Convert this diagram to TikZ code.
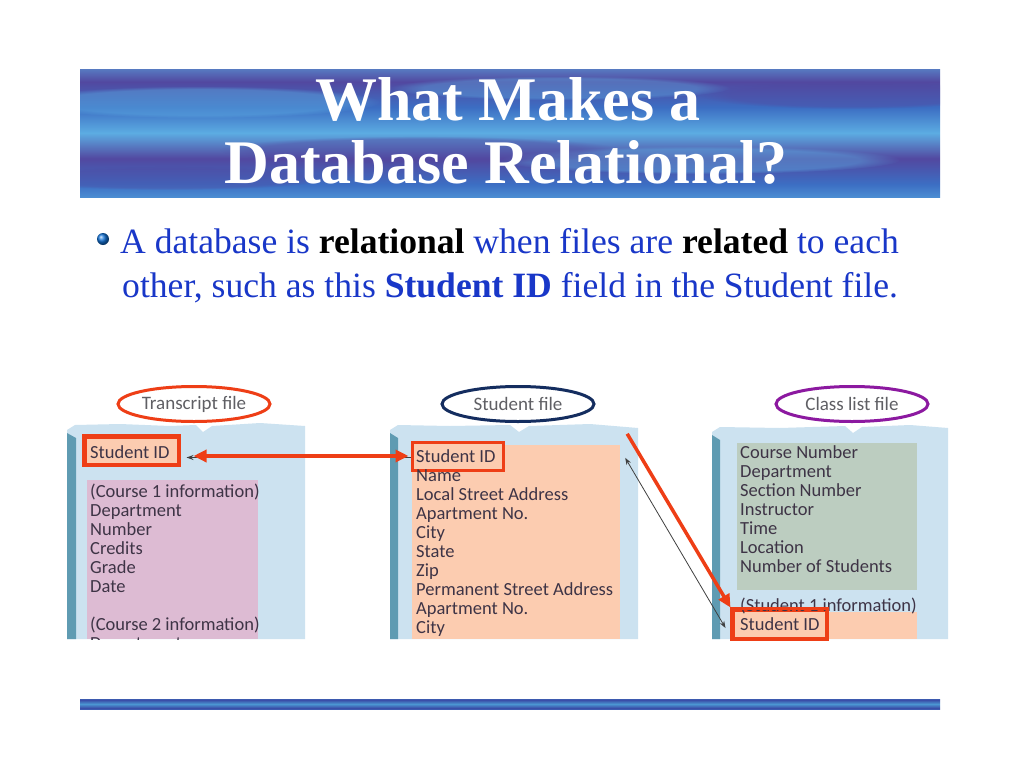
\documentclass[tikz,border=0pt]{standalone}
\usepackage{fontspec}
\setmainfont{Liberation Serif}
\newfontfamily\hand{Carlito}
\usetikzlibrary{arrows.meta,shapes.geometric,fadings}
\definecolor{panelblue}{RGB}{204,226,240}
\definecolor{stripteal}{RGB}{95,155,178}
\definecolor{peach}{RGB}{252,204,176}
\definecolor{pinkf}{RGB}{221,187,211}
\definecolor{greenf}{RGB}{188,205,192}
\definecolor{redorange}{RGB}{238,62,22}
\definecolor{navy}{RGB}{20,45,95}
\definecolor{purplec}{RGB}{140,25,160}
\definecolor{fieldgray}{RGB}{62,52,70}
\definecolor{labelgray}{RGB}{95,95,100}
\definecolor{textblue}{RGB}{25,55,200}
\definecolor{bnA}{RGB}{72,62,150}
\definecolor{bnB}{RGB}{70,130,205}
\definecolor{bnC}{RGB}{92,172,226}
\definecolor{bnD}{RGB}{60,110,195}
\definecolor{bnE}{RGB}{82,72,160}
\definecolor{bnF}{RGB}{70,85,168}
\definecolor{brA}{RGB}{75,150,210}
\definecolor{brB}{RGB}{58,78,168}
\pgfdeclareverticalshading{banner}{100bp}{color(0bp)=(bnA); color(10bp)=(bnB); color(20bp)=(bnC); color(30bp)=(bnD); color(40bp)=(bnE); color(50bp)=(bnC); color(60bp)=(bnD); color(70bp)=(bnE); color(80bp)=(bnC); color(90bp)=(bnD); color(100bp)=(bnF)}
\pgfdeclareverticalshading{barshade}{100bp}{color(0bp)=(brA); color(30bp)=(brB); color(50bp)=(brA); color(70bp)=(brB); color(100bp)=(brA)}
\tikzset{
  fieldtxt/.style={anchor=base west, font=\hand\fontsize{18.5}{19}\selectfont, text=fieldgray, inner sep=0pt},
  sidbox/.style={draw=redorange, line width=3pt, fill=peach, inner sep=0pt},
  fileoval/.style={ellipse, line width=3pt, minimum width=152pt, minimum height=35pt, inner sep=0pt, fill=white, font=\hand\fontsize{19}{19}\selectfont, text=labelgray},
  redarr/.style={draw=redorange, line width=3.5pt, >={Triangle[length=13pt,width=12pt]}},
  thinarr/.style={draw=black!75, line width=0.8pt, >={Stealth[length=7pt,width=5pt]}},
  bodytxt/.style={anchor=base west, inner sep=0pt, font=\fontsize{35.6}{36}\selectfont, text=textblue},
  titletxt/.style={anchor=base, inner sep=0pt, font=\fontsize{62}{63}\selectfont\bfseries, text=white},
  blob/.style={path fading=circle with fuzzy edge 20 percent}
}
\begin{document}
\begin{tikzpicture}[x=1pt,y=-1pt]
\useasboundingbox (0,0) rectangle (1024,768);
\fill[white] (0,0) rectangle (1024,768);
% banner
\begin{scope}
\clip (80,69) rectangle (940,197);
\shade[shading=banner] (80,69) rectangle (940,197);
\fill[bnC, blob, opacity=0.45] (200,102) ellipse (180 and 16);
\fill[bnC, blob, opacity=0.45] (700,160) ellipse (200 and 14);
\fill[bnE, blob, opacity=0.4] (420,150) ellipse (200 and 14);
\fill[bnE, blob, opacity=0.4] (850,95) ellipse (150 and 14);
\fill[bnC, blob, opacity=0.4] (560,88) ellipse (170 and 12);
\fill[bnE, blob, opacity=0.35] (170,178) ellipse (160 and 12);
\end{scope}
\node[titletxt] (t1) at (508,120) {What Makes a};
\node[titletxt] (t2) at (506,183) {Database Relational?};
% bullet text
\shade[ball color=textblue!70!cyan] (103,239) circle (6);
\node[bodytxt] (b1) at (120,253) {A database is \textbf{\color{black}relational} when files are \textbf{\color{black}related} to each};
\node[bodytxt] (b2) at (122,297) {other, such as this \textbf{Student ID} field in the Student file.};
% bottom bar
\shade[shading=barshade] (80,699) rectangle (940,709);
% panels
\fill[panelblue] (67,430) -- (75,425) -- (120,424) -- (170,426) -- (196,425) -- (203,432) -- (212,426) -- (260,423) -- (305,426) -- (305,639) -- (67,639) -- cycle;
\fill[stripteal] (67,433) -- (76,438) -- (76,639) -- (67,639) -- cycle;
\fill[panelblue] (390,430) -- (398,425) -- (450,426) -- (510,425) -- (519,432) -- (529,426) -- (590,424) -- (638,428) -- (638,639) -- (390,639) -- cycle;
\fill[stripteal] (390,433) -- (398,438) -- (398,639) -- (390,639) -- cycle;
\fill[panelblue] (712,432) -- (720,427) -- (780,428) -- (845,426) -- (853,433) -- (862,427) -- (910,425) -- (948,428) -- (948,639) -- (712,639) -- cycle;
\fill[stripteal] (712,435) -- (720,440) -- (720,639) -- (712,639) -- cycle;
% field areas
\fill[pinkf] (87,480) rectangle (258,639);
\node[fill=peach, inner sep=0pt, minimum width=208pt, minimum height=194pt] (s-body) at (516,542) {};
\fill[greenf] (737,443) rectangle (917,590);
\fill[peach] (737,612) rectangle (917,639);
% ovals
\node[fileoval, draw=redorange] (t-oval) at (194,404) {Transcript file};
\node[fileoval, draw=navy] (s-oval) at (518,404) {Student file};
\node[fileoval, draw=purplec] (c-oval) at (852,404) {Class list file};
% Student ID boxes
\node[sidbox, minimum width=93pt, minimum height=27pt] (t-sid) at (131.5,450.5) {};
\node[sidbox, minimum width=91pt, minimum height=28pt] (s-sid) at (457.5,456) {};
\node[sidbox, minimum width=93pt, minimum height=28pt] (c-sid) at (779.5,624) {};
% texts
\begin{scope}
\clip (0,0) rectangle (1024,639);
\foreach \t [count=\i from 0] in {Student ID,(Course 1 information),Department,Number,Credits,Grade,Date}
  \node[fieldtxt] at (90,{458+(\i>0)*20+\i*19}) {\t};
\node[fieldtxt] at (90,630) {(Course 2 information)};
\node[fieldtxt] at (90,649) {Department};
\foreach \t [count=\i from 0] in {Student ID,Name,Local Street Address,Apartment No.,City,State,Zip,Permanent Street Address,Apartment No.,City}
  \node[fieldtxt] at (416,{462+\i*19}) {\t};
\foreach \t [count=\i from 0] in {Course Number,Department,Section Number,Instructor,Time,Location,Number of Students}
  \node[fieldtxt] at (740,{458+\i*19}) {\t};
\node[fieldtxt] at (740,611) {(Student 1 information)};
\node[fieldtxt] at (740,630) {Student ID};
\end{scope}
% redraw box outlines over text
\draw[redorange, line width=3pt] (t-sid.north west) rectangle (t-sid.south east);
\draw[redorange, line width=3pt] (c-sid.north west) rectangle (c-sid.south east);
% connectors
\draw[thinarr, ->] (s-sid.west |- 0,457.5) -- ([xshift=7pt]t-sid.east |- 0,457.5);
\draw[redarr, <->] ([xshift=14pt]t-sid.east |- s-sid.west) -- ([xshift=-2pt]s-sid.west);
\draw[thinarr, <->] ([xshift=5pt,yshift=-13pt]s-body.north east) -- ([xshift=-6pt,yshift=-4pt]c-sid.west);
\draw[redarr, ->] ([xshift=7pt,yshift=11pt]s-body.north east) -- ([xshift=-1pt,yshift=1pt]c-sid.north west);
\end{tikzpicture}
\end{document}
